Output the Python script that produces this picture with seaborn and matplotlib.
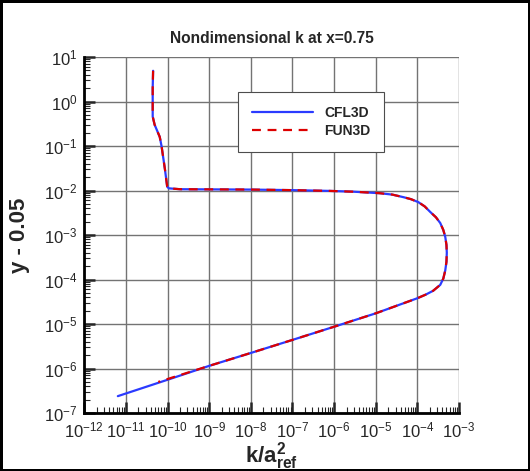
import numpy as np
import pandas as pd
import matplotlib
matplotlib.use("Agg")
import matplotlib.pyplot as plt
import seaborn as sns

# profile values (k/a_ref^2 , y-0.05), wall at the bottom
cfl3d_k = [4.5e-11, 4.4e-11, 4.4e-11, 4.9e-11, 6.5e-11, 7.2e-11, 8.7e-11,
           9.8e-11, 1.07e-10, 2.0e-10, 1.0e-8, 1.0e-7, 7.9e-7, 3.0e-6,
           1.26e-5, 2.5e-5, 4.6e-5, 7.0e-5, 1.05e-4, 1.5e-4, 2.04e-4,
           2.8e-4, 3.55e-4, 4.2e-4, 4.68e-4, 5.0e-4, 5.1e-4, 5.0e-4,
           4.68e-4, 4.2e-4, 3.55e-4, 2.4e-4, 1.6e-4, 1.0e-4, 1.0e-5,
           1.0e-6, 1.0e-7, 1.0e-8, 1.0e-9, 1.0e-10, 6.4e-12]
cfl3d_y = [4.9, 2.0, 0.46, 0.30, 0.16, 0.098, 0.029,
           0.0123, 0.0112, 0.0107, 0.0105, 0.0102, 0.0098, 0.0094,
           0.0087, 0.0081, 0.0071, 0.0064, 0.0055, 0.0044, 0.0033,
           0.0025, 0.00186, 0.0013, 0.00091, 0.0006, 0.0004, 0.00025,
           0.00016, 0.000105, 7.6e-5, 5.6e-5, 4.6e-5, 3.8e-5, 1.74e-5,
           8.7e-6, 4.4e-6, 2.24e-6, 1.15e-6, 5.6e-7, 2.4e-7]

fun3d_k = cfl3d_k[:-2] + [6.0e-11]
fun3d_y = cfl3d_y[:-2] + [5.0e-7]

sns.set_style("white")
plt.rcParams["font.family"] = ["Liberation Sans", "DejaVu Sans"]
plt.rcParams["mathtext.fontset"] = "custom"
plt.rcParams["mathtext.rm"] = "Liberation Sans"
plt.rcParams["mathtext.bf"] = "Liberation Sans:bold"
plt.rcParams["mathtext.default"] = "regular"
plt.rcParams["axes.unicode_minus"] = False

fig = plt.figure(figsize=(5.3, 4.71), dpi=100)
fig.patch.set_edgecolor("black")
fig.patch.set_linewidth(2.5)
ax = fig.add_axes([0.159, 0.123, 0.707, 0.756])

cfl = pd.DataFrame({"k": cfl3d_k, "y": cfl3d_y})
fun = pd.DataFrame({"k": fun3d_k, "y": fun3d_y})
sns.lineplot(data=cfl, x="k", y="y", sort=False, estimator=None, ax=ax,
             color="#2b3bff", lw=1.6, label="CFL3D")
sns.lineplot(data=fun, x="k", y="y", sort=False, estimator=None, ax=ax,
             color="#dd0000", lw=1.6, dashes=(4, 3), label="FUN3D")

ax.set_xscale("log")
ax.set_yscale("log")
ax.set_xlim(1e-12, 1e-3)
ax.set_ylim(1e-7, 1e1)
ax.set_xticks([10.0**p for p in range(-12, -2)])
ax.set_yticks([10.0**p for p in range(-7, 2)])
ax.xaxis.set_minor_locator(matplotlib.ticker.LogLocator(base=10, subs=np.arange(2, 10), numticks=100))
ax.yaxis.set_minor_locator(matplotlib.ticker.LogLocator(base=10, subs=np.arange(2, 10), numticks=100))
ax.xaxis.set_minor_formatter(matplotlib.ticker.NullFormatter())
ax.yaxis.set_minor_formatter(matplotlib.ticker.NullFormatter())
ax.grid(True, which="major", color="0.45", lw=1.0)
ax.tick_params(which="major", direction="in", length=8, width=1.8,
               labelsize=12, bottom=True, left=True, top=False, right=False, pad=5)
ax.tick_params(which="minor", direction="in", length=4, width=0.8,
               bottom=True, left=True, top=False, right=False)
for s in ["top", "right"]:
    ax.spines[s].set_visible(False)
for s in ["left", "bottom"]:
    ax.spines[s].set_linewidth(2)
    ax.spines[s].set_color("black")

ax.set_title("Nondimensional k at x=0.75", fontsize=11.2, fontweight="bold", pad=10)
ax.set_xlabel(r"$\mathbf{k/a_{ref}^{2}}$", fontsize=16, labelpad=0)
ax.set_ylabel("y - 0.05", fontsize=16, fontweight="bold", labelpad=10)

leg = ax.legend(loc="upper left", bbox_to_anchor=(0.41, 0.902), frameon=True,
                fancybox=False, edgecolor="0.3", framealpha=1, handlelength=4.4,
                borderpad=1.0, labelspacing=0.3, handletextpad=0.8,
                borderaxespad=0, prop={"weight": "bold", "size": 10})
leg.get_frame().set_linewidth(0.8)

fig.savefig("out.png", dpi=100)
